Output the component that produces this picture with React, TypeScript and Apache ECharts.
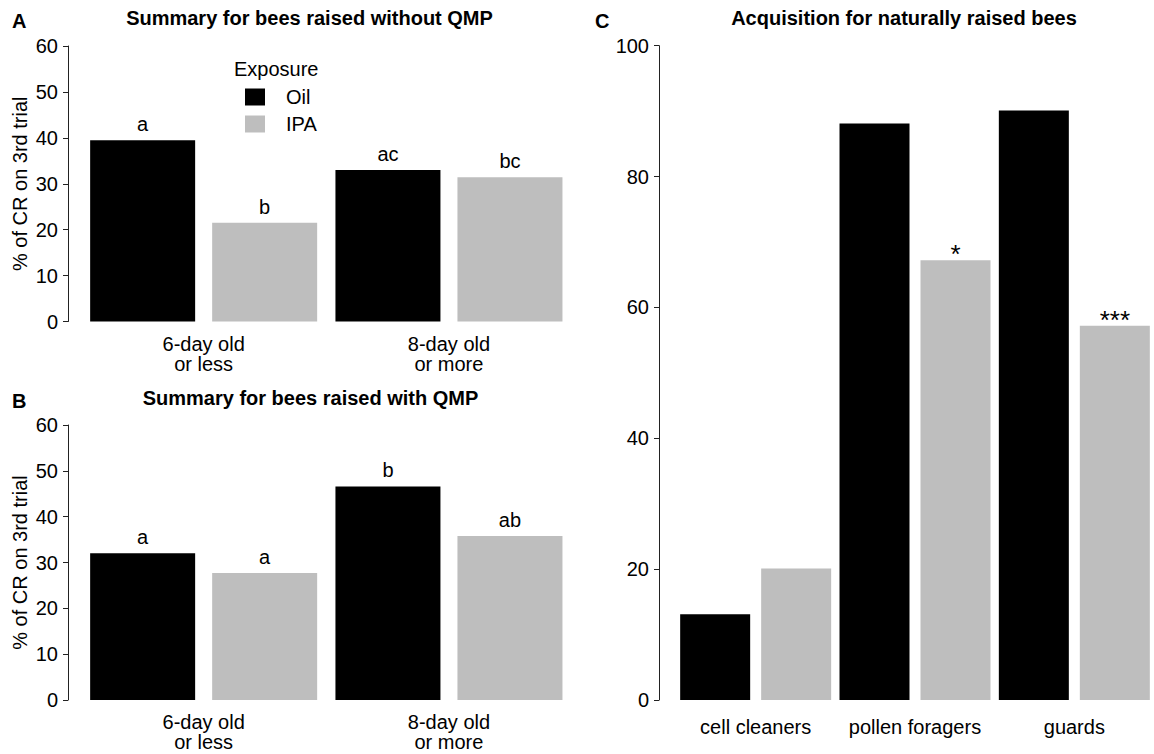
import React, { useEffect, useRef } from "react";
import * as echarts from "echarts";

// ---- data ----
const categoriesAB = ["6-day old\nor less", "8-day old\nor more"];
const oilNoQMP = [39.5, 33.0];
const ipaNoQMP = [21.5, 31.4];
const lettersOilNoQMP = ["a", "ac"];
const lettersIpaNoQMP = ["b", "bc"];

const oilQMP = [32.0, 46.6];
const ipaQMP = [27.7, 35.8];
const lettersOilQMP = ["a", "b"];
const lettersIpaQMP = ["a", "ab"];

const categoriesC = ["cell cleaners", "pollen foragers", "guards"];
const oilNatural = [13.1, 88.1, 90.1];
const ipaNatural = [20.1, 67.2, 57.2];
const sigIpaNatural = ["", "*", "***"];

const titleA = "Summary for bees raised without QMP";
const titleB = "Summary for bees raised with QMP";
const titleC = "Acquisition for naturally raised bees";
const yNameAB = "% of CR on 3rd trial";

const FONT = "'Liberation Sans', Arial, Helvetica, sans-serif";
const BLACK = "#000000";
const GRAY = "#BEBEBE";

export default function App() {
  const ref = useRef<HTMLDivElement>(null);
  useEffect(() => {
    if (!ref.current) return;
    const chart = echarts.init(ref.current, undefined, { renderer: "svg" });

    const yAxisCommon = (max: number, interval: number, gridIndex: number, offset: number, name?: string) => ({
      type: "value",
      gridIndex,
      min: 0,
      max,
      interval,
      offset,
      name: name || "",
      nameLocation: "middle",
      nameGap: 38,
      nameTextStyle: { fontFamily: FONT, fontSize: 20, color: "#000" },
      splitLine: { show: false },
      axisLine: { show: true, lineStyle: { color: "#222", width: 1 } },
      axisTick: { show: true, length: 5, lineStyle: { color: "#222", width: 1 } },
      axisLabel: { fontFamily: FONT, fontSize: 20, color: "#000", margin: 10 },
    });

    const xAxisCommon = (data: string[], gridIndex: number, margin: number) => ({
      type: "category",
      gridIndex,
      data,
      axisLine: { show: false },
      axisTick: { show: false },
      axisLabel: { interval: 0, fontFamily: FONT, fontSize: 20, color: "#000", margin, lineHeight: 20 },
    });

    const barLabel = (arr: string[], fontSize = 20, distance = 6) => ({
      show: true,
      position: "top",
      distance,
      fontFamily: FONT,
      fontSize,
      color: "#000",
      formatter: (p: any) => arr[p.dataIndex],
    });

    const titleText = (text: string, x: number, y: number, align = "center") => ({
      type: "text",
      x,
      y,
      style: {
        text,
        fill: "#000",
        font: `bold 20px ${FONT}`,
        textAlign: align,
        textVerticalAlign: "middle",
      },
    });

    chart.setOption({
      animation: false,
      backgroundColor: "#fff",
      grid: [
        { left: 81, width: 490.6, top: 46, height: 275.5 },
        { left: 81, width: 490.6, top: 425, height: 275 },
        { left: 676, right: -5.5, top: 45.7, height: 654.3 },
      ],
      legend: {
        orient: "vertical",
        left: 245,
        top: 87,
        padding: 0,
        itemWidth: 20,
        itemHeight: 17,
        itemGap: 7,
        icon: "rect",
        data: ["Oil", "IPA"],
        textStyle: { fontFamily: FONT, fontSize: 20, color: "#000", padding: [0, 0, 0, 16] },
      },
      xAxis: [
        xAxisCommon(categoriesAB, 0, 12),
        xAxisCommon(categoriesAB, 1, 12),
        xAxisCommon(categoriesC, 2, 17),
      ],
      yAxis: [
        yAxisCommon(60, 10, 0, 13, yNameAB),
        yAxisCommon(60, 10, 1, 13, yNameAB),
        yAxisCommon(100, 20, 2, 17),
      ],
      series: [
        { type: "bar", name: "Oil", xAxisIndex: 0, yAxisIndex: 0, data: oilNoQMP, barWidth: 105, barGap: "16.2%", itemStyle: { color: BLACK }, label: barLabel(lettersOilNoQMP) },
        { type: "bar", name: "IPA", xAxisIndex: 0, yAxisIndex: 0, data: ipaNoQMP, barWidth: 105, barGap: "16.2%", itemStyle: { color: GRAY }, label: barLabel(lettersIpaNoQMP) },
        { type: "bar", name: "Oil", xAxisIndex: 1, yAxisIndex: 1, data: oilQMP, barWidth: 105, barGap: "16.2%", itemStyle: { color: BLACK }, label: barLabel(lettersOilQMP) },
        { type: "bar", name: "IPA", xAxisIndex: 1, yAxisIndex: 1, data: ipaQMP, barWidth: 105, barGap: "16.2%", itemStyle: { color: GRAY }, label: barLabel(lettersIpaQMP) },
        { type: "bar", name: "Oil", xAxisIndex: 2, yAxisIndex: 2, data: oilNatural, barWidth: 70, barGap: "15.7%", itemStyle: { color: BLACK } },
        { type: "bar", name: "IPA", xAxisIndex: 2, yAxisIndex: 2, data: ipaNatural, barWidth: 70, barGap: "15.7%", itemStyle: { color: GRAY }, label: barLabel(sigIpaNatural, 26, -7) },
      ],
      graphic: [
        titleText("A", 12, 21, "left"),
        titleText(titleA, 309.5, 18),
        titleText("B", 12, 401, "left"),
        titleText(titleB, 310.5, 398),
        titleText("C", 595, 21, "left"),
        titleText(titleC, 904, 18),
        {
          type: "text",
          x: 234,
          y: 69,
          style: { text: "Exposure", fill: "#000", font: `20px ${FONT}`, textAlign: "left", textVerticalAlign: "middle" },
        },
      ],
    });
    return () => chart.dispose();
  }, []);
  return <div ref={ref} style={{ position: "absolute", left: 0, top: 0, width: 1154, height: 754 }} />;
}
